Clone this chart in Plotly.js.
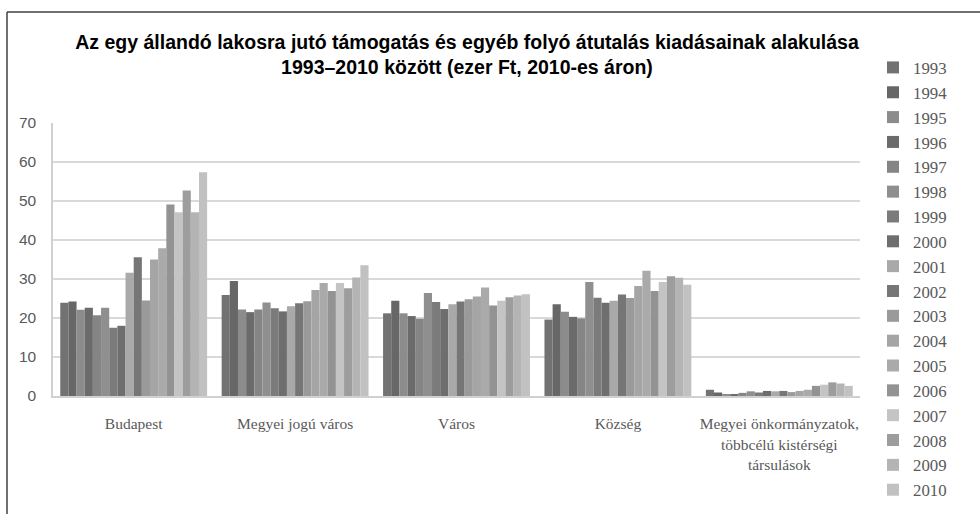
<!DOCTYPE html>
<html>
<head>
<meta charset="utf-8">
<script src="https://cdn.plot.ly/plotly-3.0.1.min.js"></script>
<style>html,body{margin:0;padding:0;background:#fff;}#chart{width:980px;height:514px;}</style>
</head>
<body>
<div id="chart"></div>
<script>
const categories = ["Budapest", "Megyei jogú város", "Város", "Község", "Megyei önkormányzatok,<br>többcélú kistérségi<br>társulások"];
const years = ["1993","1994","1995","1996","1997","1998","1999","2000","2001","2002","2003","2004","2005","2006","2007","2008","2009","2010"];
const colors = ["#727272","#676767","#8c8c8c","#6b6b6b","#858585","#8f8f8f","#7b7b7b","#6e6e6e","#a9a9a9","#767676","#9a9a9a","#a5a5a5","#aaaaaa","#939393","#c4c4c4","#9d9d9d","#b4b4b4","#c1c1c1"];
// values per category, one entry per year 1993..2010
const budapest = [23.9,24.2,22.1,22.6,20.7,22.6,17.5,18.0,31.6,35.6,24.5,35.0,37.9,49.1,47.1,52.7,47.1,57.4];
const megyeiJogu = [25.9,29.5,22.2,21.5,22.2,24.0,22.5,21.7,23.0,23.8,24.3,27.2,29.0,26.9,29.0,27.6,30.4,33.5];
const varos = [21.2,24.4,21.2,20.5,19.8,26.4,24.1,22.3,23.5,24.2,24.8,25.5,27.8,23.2,24.4,25.3,25.8,26.1];
const kozseg = [19.6,23.5,21.6,20.3,19.9,29.2,25.2,23.9,24.4,26.0,25.1,28.2,32.1,26.9,29.2,30.7,30.3,28.5];
const megyeiOnk = [1.6,0.9,0.3,0.35,0.8,1.2,0.9,1.3,1.2,1.3,1.0,1.3,1.6,2.6,2.9,3.5,3.2,2.6];
const series = [budapest, megyeiJogu, varos, kozseg, megyeiOnk];

const traces = years.map((yr, i) => ({
  type: "bar",
  name: yr,
  x: categories,
  y: series.map(s => s[i]),
  marker: {color: colors[i], line: {width: 0}},
  hoverinfo: "x+y+name"
}));

const L = 53, R = 860, T = 123, B = 396, W = 980, H = 514;
const pw = R - L, ph = B - T;
const px = v => (v - L) / pw;
const py = v => (B - v) / ph;

const layout = {
  width: W, height: H,
  margin: {l: L, r: W - R, t: T, b: H - B, pad: 0},
  paper_bgcolor: "#ffffff",
  plot_bgcolor: "#ffffff",
  barmode: "group",
  bargap: 0.09,
  bargroupgap: 0,
  title: {
    text: "<b>Az egy állandó lakosra jutó támogatás és egyéb folyó átutalás kiadásainak alakulása<br>1993–2010 között (ezer Ft, 2010-es áron)</b>",
    font: {family: "Liberation Sans, Arial, sans-serif", size: 19.5, color: "#000000"},
    x: 467 / W, xref: "container", xanchor: "center",
    y: 1 - 49 / H, yref: "container", yanchor: "top"
  },
  xaxis: {
    type: "category",
    tickfont: {family: "Liberation Serif, Times New Roman, serif", size: 15.5, color: "#595959"},
    showgrid: false,
    showline: true, linecolor: "#d0d0d0", linewidth: 1.5,
    ticks: "", ticklabelstandoff: 13,
    tickangle: 0,
    fixedrange: true
  },
  yaxis: {
    range: [0, 70],
    tickvals: [0,10,20,30,40,50,60,70],
    tickfont: {family: "Liberation Sans, Arial, sans-serif", size: 15.5, color: "#595959"},
    showgrid: true, gridcolor: "#d9d9d9", gridwidth: 1.5,
    showline: true, linecolor: "#d0d0d0", linewidth: 1.5,
    zeroline: false,
    ticks: "", ticklabelstandoff: 12,
    fixedrange: true
  },
  legend: {
    x: px(873), xanchor: "left",
    y: py(50), yanchor: "top",
    traceorder: "normal",
    maxheight: 500,
    font: {family: "Liberation Serif, Times New Roman, serif", size: 16.8, color: "#595959"},
    itemclick: false, itemdoubleclick: false,
    bgcolor: "rgba(0,0,0,0)"
  },
  shapes: [
    {type: "line", xref: "paper", yref: "paper", x0: px(7), x1: px(7), y0: py(12), y1: py(520), line: {color: "#404040", width: 1.5}},
    {type: "line", xref: "paper", yref: "paper", x0: px(7), x1: px(990), y0: py(12), y1: py(12), line: {color: "#404040", width: 1.5}}
  ],
  showlegend: true
};

Plotly.newPlot("chart", traces, layout, {displayModeBar: false});
</script>
</body>
</html>
